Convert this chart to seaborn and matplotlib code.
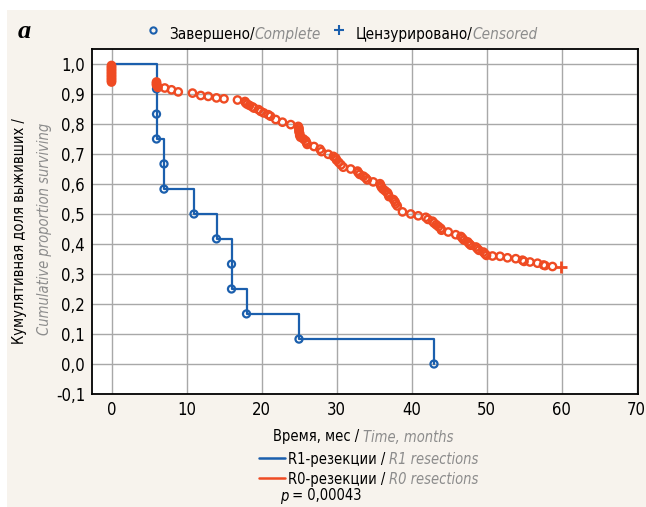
import numpy as np
import pandas as pd
import matplotlib
matplotlib.use("Agg")
import matplotlib.pyplot as plt
import seaborn as sns
from matplotlib.offsetbox import TextArea, HPacker, DrawingArea, AnnotationBbox
from matplotlib.lines import Line2D
from matplotlib.patches import Rectangle

# ---------------- data ----------------
# R1 resections: event times (months) and survival after each event
r1_time = [6, 6, 6, 7, 7, 11, 14, 16, 16, 18, 25, 43]
r1_surv = [0.917, 0.833, 0.750, 0.667, 0.583, 0.500, 0.417, 0.333, 0.250, 0.167, 0.083, 0.0]

# R0 resections: complete (event) markers
r0_time = [0, 0, 0, 0, 0, 0, 0, 0, 0, 0, 0, 0,
           6, 6, 6, 6.1, 6.2,
           7.1, 8.0, 8.9, 10.8, 11.9, 12.9, 14.0, 15.0, 16.8,
           17.8, 17.9, 18.1, 18.4, 18.8, 19.0, 19.6, 19.9, 20.3, 20.9, 21.2, 21.9, 22.8, 23.9,
           24.9, 25.0, 25.0, 25.0, 25.1, 25.1, 25.2, 25.6, 25.9, 26.0, 26.1,
           27.0, 27.8, 28.0, 28.9, 29.6, 29.9, 30.0, 30.3, 30.6, 30.9,
           31.9, 32.8, 32.9, 33.1, 33.6, 33.9, 34.1, 34.9,
           35.8, 35.9, 36.0, 36.2, 36.5, 36.8, 36.9, 37.0, 37.6, 37.8, 37.9, 38.1,
           38.8, 39.9, 40.9, 41.9, 42.2, 42.8, 43.0, 43.3, 43.6, 43.9, 44.0,
           44.9, 45.9, 46.6, 46.8, 47.0, 47.5, 47.7, 47.9, 48.6, 48.8, 49.0, 49.6, 49.8, 50.0,
           50.8, 51.8, 52.8, 53.9, 54.8, 55.0, 55.8, 56.8, 57.6, 57.8, 58.8]
r0_surv = [0.995, 0.990, 0.985, 0.980, 0.975, 0.970, 0.965, 0.960, 0.955, 0.950, 0.945, 0.940,
           0.940, 0.935, 0.930, 0.926, 0.922,
           0.920, 0.914, 0.907, 0.903, 0.895, 0.892, 0.887, 0.884, 0.880,
           0.875, 0.870, 0.866, 0.862, 0.857, 0.853, 0.848, 0.842, 0.837, 0.831, 0.826, 0.815, 0.806, 0.798,
           0.792, 0.786, 0.780, 0.774, 0.768, 0.762, 0.756, 0.750, 0.744, 0.738, 0.732,
           0.725, 0.716, 0.708, 0.699, 0.692, 0.686, 0.680, 0.672, 0.664, 0.656,
           0.650, 0.643, 0.638, 0.632, 0.626, 0.620, 0.614, 0.607,
           0.601, 0.595, 0.589, 0.583, 0.577, 0.571, 0.565, 0.558, 0.548, 0.541, 0.534, 0.527,
           0.507, 0.500, 0.494, 0.489, 0.482, 0.476, 0.470, 0.464, 0.458, 0.452, 0.446,
           0.440, 0.431, 0.425, 0.419, 0.413, 0.407, 0.401, 0.396, 0.390, 0.384, 0.379, 0.373, 0.367, 0.362,
           0.360, 0.359, 0.354, 0.351, 0.346, 0.342, 0.340, 0.336, 0.330, 0.328, 0.325]
# R0 censored observation
r0_cens_time = [59.9]
r0_cens_surv = [0.325]

x_ticks = [0, 10, 20, 30, 40, 50, 60, 70]
y_ticks = [-0.1, 0.0, 0.1, 0.2, 0.3, 0.4, 0.5, 0.6, 0.7, 0.8, 0.9, 1.0]
y_tick_labels = ["-0,1", "0,0", "0,1", "0,2", "0,3", "0,4", "0,5", "0,6", "0,7", "0,8", "0,9", "1,0"]

# ---------------- style ----------------
BLUE = "#1b5fad"
RED = "#ef4b23"
GRAY = "#8c8c8c"
BG = "#f7f3ed"
FONT = ["DejaVu Sans"]
FS = 10.5

sns.set_theme(style="white")
plt.rcParams["font.family"] = FONT
plt.rcParams["font.stretch"] = "condensed"

W, H = 646, 507
fig = plt.figure(figsize=(W / 100, H / 100), dpi=100)
fig.patch.set_facecolor("white")
fig.add_artist(Rectangle((7 / W, 0), 1 - 7 / W, 1 - 10 / H, transform=fig.transFigure,
                         facecolor=BG, edgecolor="none", zorder=-10))

ax = fig.add_axes([92 / W, 1 - 394 / H, (638 - 92) / W, (394 - 49) / H])
ax.set_facecolor("white")

# R1 step curve
step_df = pd.DataFrame({"t": [0] + r1_time, "s": [1.0] + r1_surv})
sns.lineplot(data=step_df, x="t", y="s", ax=ax, color=BLUE, lw=1.6,
             drawstyle="steps-post", estimator=None, sort=False, zorder=3)
sns.scatterplot(x=r1_time, y=r1_surv, ax=ax, marker="o", s=26, color=BLUE,
                facecolor="none", edgecolor=BLUE, linewidth=1.6, zorder=4)

# R0 markers
sns.scatterplot(x=r0_time, y=r0_surv, ax=ax, marker="o", s=28, color=RED,
                facecolor="none", edgecolor=RED, linewidth=1.7, zorder=5)
sns.scatterplot(x=r0_cens_time, y=r0_cens_surv, ax=ax, marker="+", s=70, color=RED,
                linewidth=2.0, zorder=5)

ax.set_xlim(-2.6, 70.2)
ax.set_ylim(-0.1, 1.05)
ax.set_xticks(x_ticks)
ax.set_xticklabels([str(v) for v in x_ticks])
ax.set_yticks(y_ticks)
ax.set_yticklabels(y_tick_labels)
ax.grid(True, color="#a8a8a8", lw=1.0)
ax.set_axisbelow(True)
for sp in ax.spines.values():
    sp.set_color("black")
    sp.set_linewidth(1.3)
ax.tick_params(axis="both", which="both", labelsize=12, colors="black", direction="inout",
               length=6, width=1.0, pad=2)
for lab in ax.get_xticklabels() + ax.get_yticklabels():
    lab.set_fontstretch("condensed")
ax.set_xlabel("")
ax.set_ylabel("")

# ---------------- texts ----------------
def ta(s, italic=False, color="black", size=FS):
    return TextArea(s, textprops=dict(family=FONT, style="italic" if italic else "normal",
                                      color=color, fontsize=size, fontstretch="condensed"))

PT = 100 / 72.0  # px per point


def marker_area(width_px, xc_px, **kw):
    da = DrawingArea(width_px / PT, 12, 0, 0)
    da.add_artist(Line2D([xc_px / PT], [6], **kw))
    return da


def place(children, x_px, y_px_top):
    box = HPacker(children=children, align="baseline", pad=0, sep=0)
    ab = AnnotationBbox(box, (x_px / W, 1 - y_px_top / H), xycoords="figure fraction",
                        box_alignment=(0, 0.5), frameon=False, pad=0)
    fig.add_artist(ab)


# top legend
place([marker_area(21, 5, marker="o", ms=4.5, mfc="none", mec=BLUE, mew=1.5, color=BLUE),
       ta("Завершено/", size=11), ta("Complete", True, GRAY, size=11),
       marker_area(35, 18, marker="+", ms=6.5, mew=1.5, color=BLUE),
       ta("Цензурировано/", size=11), ta("Censored", True, GRAY, size=11)], 148, 32)

# panel letter
fig.text(18 / W, 1 - 31 / H, "a", family="Liberation Serif", weight="bold", style="italic",
         fontsize=19, ha="left", va="center", color="black")

# y-axis label (two lines)
fig.text(20 / W, 1 - 231 / H, "Кумулятивная доля выживших /", rotation=90, ha="center",
         va="center", fontsize=FS, color="black", fontstretch="condensed")
fig.text(45 / W, 1 - 229 / H, "Cumulative proportion surviving", rotation=90, ha="center",
         va="center", fontsize=FS, color=GRAY, style="italic", fontstretch="condensed")

# bottom block
place([ta("Время, мес / "), ta("Time, months", True, GRAY)], 273, 437)
place([marker_area(29, 13, marker="", color=BLUE), ta("R1-резекции / "), ta("R1 resections", True, GRAY)], 259, 457)
place([marker_area(29, 13, marker="", color=RED), ta("R0-резекции / "), ta("R0 resections", True, GRAY)], 259, 477)
fig.add_artist(Line2D([259 / W, 285 / W], [1 - 458 / H, 1 - 458 / H], color=BLUE, lw=1.8,
                      transform=fig.transFigure))
fig.add_artist(Line2D([259 / W, 285 / W], [1 - 478 / H, 1 - 478 / H], color=RED, lw=1.8,
                      transform=fig.transFigure))
place([ta("p", True), ta(" = 0,00043")], 280, 496)

fig.savefig("out.png", dpi=100, facecolor=fig.get_facecolor())
